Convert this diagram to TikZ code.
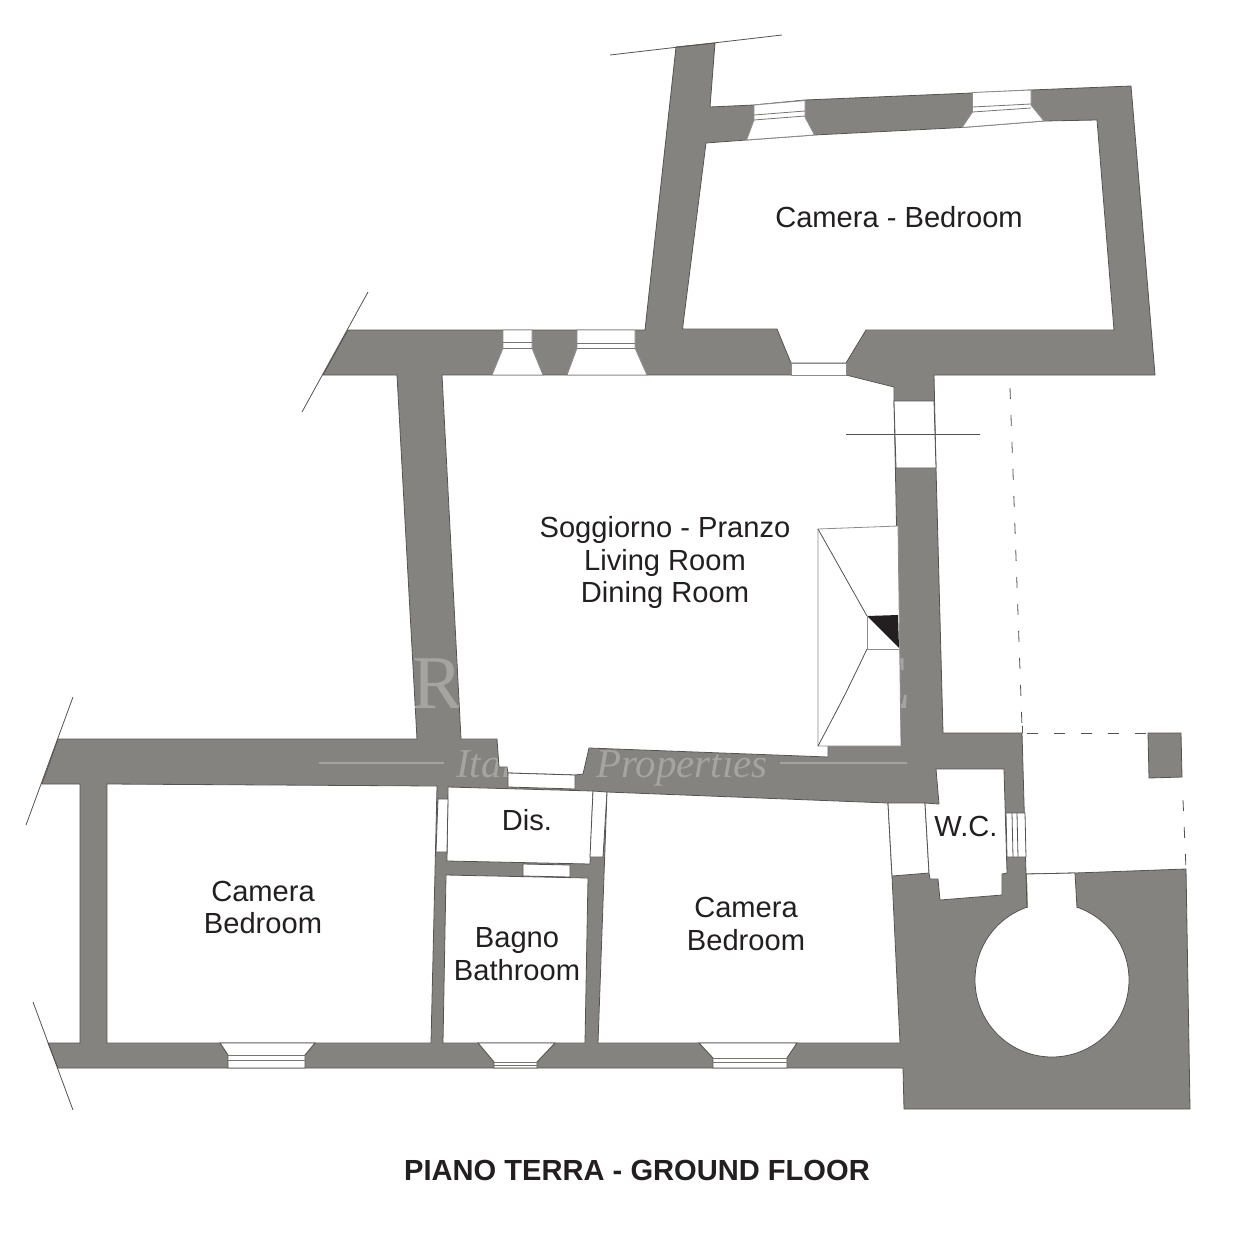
\documentclass[tikz,border=0pt]{standalone}
\usepackage{fontspec}
\setmainfont{Liberation Sans}
\newfontfamily\wmfont{Liberation Serif}
\definecolor{wall}{HTML}{858380}
\definecolor{edge}{HTML}{55524F}
\definecolor{glass}{HTML}{8C8C8C}
\definecolor{ink}{HTML}{231F20}
\definecolor{wmark}{HTML}{A6A4A1}
\def\outerpath{(676,47)--(715,43)--(710,107)--(754,105)--(805,100)--(972,93)--(1031,90)--(1131,86)--(1155,375)--(934,375)--(936,468)--(943,733)--(1022,733)--(1026,874)--(1075,873)--(1186,869)--(1190,1109)--(904,1109)--(903,1068)--(58,1068)--(48,1043)--(80,1043)--(80,784)--(42,784)--(58,739)--(417,739)--(397,375)--(323,375)--(348,330)--(645,330)--cycle}
\tikzset{
  room/.style={fill=white,draw=edge,line width=0.8pt,line join=miter},
  pane/.style={fill=white,draw=glass,line width=0.9pt},
  thinline/.style={draw=edge,line width=0.8pt},
  paneline/.style={draw=edge!80,line width=0.8pt},
  dashline/.style={draw=edge,line width=0.8pt,dash pattern=on 11pt off 16pt},
  roomlabel/.style={font=\fontsize{29.1}{32.5}\selectfont,text=ink,align=center,inner sep=0pt},
  floortitle/.style={font=\fontsize{29.1}{32}\selectfont\bfseries,text=ink,inner sep=0pt},
  wmsmall/.style={font=\wmfont\itshape\fontsize{41}{44}\selectfont,text=wmark,inner sep=0pt},
  wmbig/.style={font=\wmfont\fontsize{76}{76}\selectfont,text=wmark,inner sep=0pt}
}
\begin{document}
\begin{tikzpicture}[x=1pt,y=-1pt]
\useasboundingbox (0,0) rectangle (1235,1253);
% wall mass
\path[fill=wall,draw=edge,line width=0.8pt] \outerpath;
\path[fill=wall,draw=edge,line width=0.8pt] (1148,733)--(1181,733)--(1182,777)--(1149,778)--cycle;
% watermark
\begin{scope}
\clip \outerpath;
\draw[wmark,line width=1.6pt] (319,763)--(444,763) (780,763)--(907,763);
\node[wmbig,anchor=base west] (wmr) at (412,708) {R};
\node[wmbig,anchor=base east] (wme) at (911,708) {E};
\node[wmsmall,anchor=base west] (wmit) at (456,777) {Italian};
\node[wmsmall,anchor=base west] (wmprop) at (596,777) {Properties};
\end{scope}
% break lines
\draw[thinline] (610,55)--(782,35);
\draw[thinline] (368,292)--(302,412);
\draw[thinline] (73,697)--(26,825);
\draw[thinline] (33,1002)--(73,1110);
% upper bedroom
\path[room] (706,143)--(746.5,140)--(814.5,135)--(962,127.5)--(1044,121)--(1097,120)--(1114,330)--(866,330)--(846,363)--(791,363)--(777,329)--(682.5,329)--cycle;
\path[pane] (754,105)--(805,100.5)--(805,117)--(814.5,135)--(746.5,140)--(754,120)--cycle;
\draw[paneline] (754,115)--(805,111) (754,120)--(805,116);
\path[pane] (972.5,92.5)--(1031,90)--(1031,105)--(1044,121)--(962,127.5)--(972.5,112)--cycle;
\draw[paneline] (972.5,107)--(1031,104) (972.5,112)--(1031,108);
% living room
\path[room] (442,375)--(846,375)--(894,387)--(894,401)--(901,746)--(828,746)--(828,757)--(589,748)--(583,774)--(575,775)--(508,773)--(507,767)--(499,767)--(497,739)--(461,739)--cycle;
\path[pane] (791,363)--(846,363)--(846,375)--(791,375)--cycle;
\path[pane] (503,330)--(532,330)--(532,348)--(543,375)--(492,375)--(503,348)--cycle;
\draw[paneline] (503,342)--(532,342) (503,348)--(532,348);
\path[pane] (577,330)--(635,330)--(635,348)--(647,375)--(567,375)--(577,348)--cycle;
\draw[paneline] (577,343)--(635,343) (577,348)--(635,348);
% east opening
\path[room] (894,401)--(934,401)--(936,468)--(896,468)--cycle;
\draw[thinline] (846,434)--(980,434);
% fireplace
\path[room,draw=glass] (818,529)--(898,526)--(901,746)--(818,746)--cycle;
\fill[ink] (867,616)--(898,615)--(899,648)--cycle;
\draw[thinline] (818,529)--(867,616);
\draw[draw=glass,line width=0.9pt] (867,616)--(867,649)--(899,649);
\draw[thinline] (867,649) .. controls (845,695) .. (818,746);
% dashed courtyard lines
\draw[dashline] (1010,388)--(1022,727);
\draw[thinline] (1022,726)--(1022,733);
\draw[dashline] (1027,733)--(1148,733);
\draw[dashline] (1183,800)--(1186,869);
% west bedroom, dis, bath
\path[room] (107,784)--(437,786)--(431,1043)--(107,1043)--cycle;
\path[room] (448,787)--(593,791)--(590,864)--(447,861)--cycle;
\path[room] (508,773)--(575,775)--(575,789)--(508,787)--cycle;
\path[room] (438,799)--(448,799)--(447,852)--(436,852)--cycle;
\path[room] (593,791)--(607,792)--(603,857)--(590,857)--cycle;
\path[room] (523,864)--(570,865)--(570,877)--(523,876)--cycle;
\path[room] (446,875)--(588,878)--(585,1043)--(443,1043)--cycle;
% east bedroom, WC
\path[room] (607,792)--(888,803)--(892,876)--(900,1043)--(598,1043)--cycle;
\path[room] (888,803)--(925,803)--(929,873)--(892,876)--cycle;
\path[room] (936,769)--(1004,769)--(1007,873)--(1002,874)--(1002,895)--(940,900)--(938,879)--(930,879)--(929,873)--(925,803)--(939,804)--cycle;
\path[room] (1006,813)--(1025,813)--(1026,857)--(1007,857)--cycle;
\draw[thinline] (1012,813)--(1013,857) (1017,813)--(1018,857);
% south windows
\path[pane,draw=edge] (220,1043)--(315,1043)--(305,1055)--(305,1068)--(228,1068)--(228,1055)--cycle;
\draw[paneline] (228,1055)--(305,1055) (228,1060)--(305,1060);
\path[pane,draw=edge] (478,1043)--(555,1043)--(537,1062)--(537,1068)--(494,1068)--(494,1062)--cycle;
\draw[paneline] (494,1062)--(537,1062) (494,1065)--(537,1065);
\path[pane,draw=edge] (699,1043)--(797,1043)--(787,1058)--(787,1068)--(713,1068)--(713,1058)--cycle;
\draw[paneline] (713,1058)--(787,1058) (713,1062)--(787,1062);
% stair well
\path[room] (1052,980) circle[radius=77];
\fill[white] (1027,874)--(1075,873)--(1077,910)--(1028,910)--cycle;
\draw[thinline] (1026,874)--(1075,873)--(1077,908) (1026,874)--(1027,908);
% labels
\node[roomlabel] (bed1) at (899,217) {Camera - Bedroom};
\node[roomlabel] (living) at (665,562.5) {Soggiorno - Pranzo\\Living Room\\Dining Room};
\node[roomlabel] (bed2) at (263,907.5) {Camera\\Bedroom};
\node[roomlabel] (bed3) at (746,924) {Camera\\Bedroom};
\node[roomlabel] (bath) at (517,954) {Bagno\\Bathroom};
\node[roomlabel] (dis) at (527,820) {Dis.};
\node[roomlabel] (wc) at (966,826) {W.C.};
\node[floortitle] (floor) at (637,1170) {PIANO TERRA - GROUND FLOOR};
\end{tikzpicture}
\end{document}
